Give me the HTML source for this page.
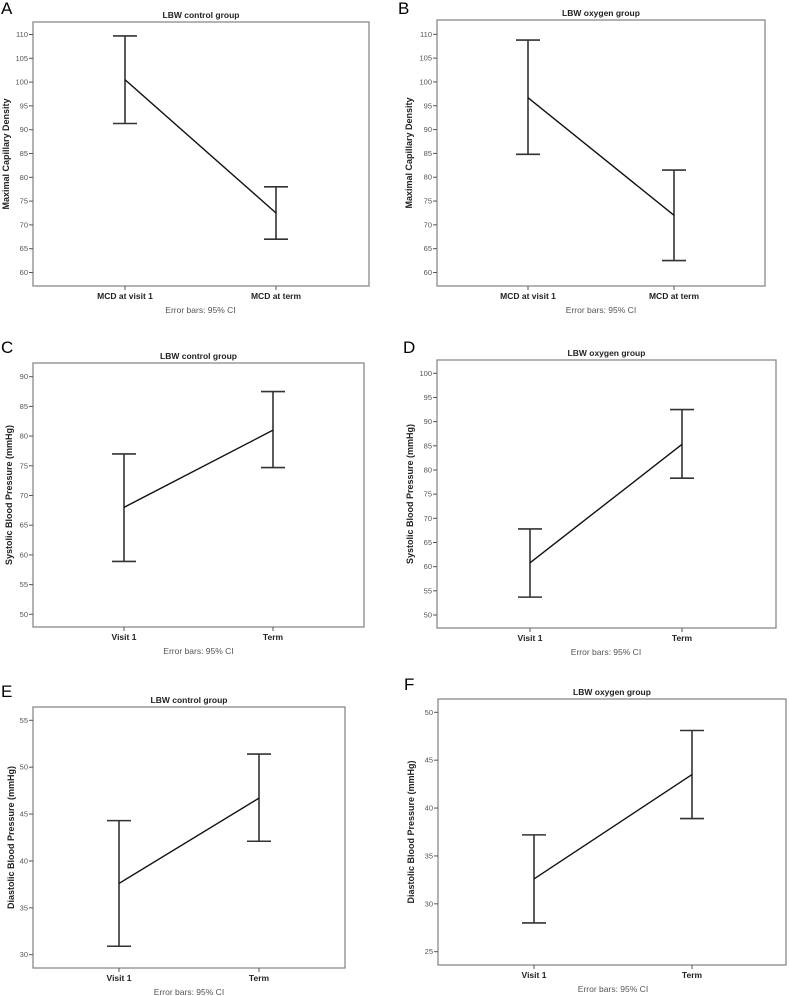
<!DOCTYPE html>
<html><head><meta charset="utf-8"><style>
html,body{margin:0;padding:0;background:#fff;}
svg{display:block;font-family:"Liberation Sans",Arial,sans-serif;}
</style></head><body>
<svg id="fig" width="789" height="996" viewBox="0 0 789 996" xmlns="http://www.w3.org/2000/svg"></svg>
<script>
// Panel data (mean, lower CI, upper CI) per category
const catsA = ["MCD at visit 1","MCD at term"];
const meanA = [100.5, 72.5];
const lowA = [91.3, 67.0];
const highA = [109.7, 78.0];
const ticksA = [60,65,70,75,80,85,90,95,100,105,110];

const catsB = ["MCD at visit 1","MCD at term"];
const meanB = [96.7, 72.0];
const lowB = [84.8, 62.5];
const highB = [108.8, 81.5];
const ticksB = [60,65,70,75,80,85,90,95,100,105,110];

const catsC = ["Visit 1","Term"];
const meanC = [68.0, 81.0];
const lowC = [58.9, 74.7];
const highC = [77.0, 87.5];
const ticksC = [50,55,60,65,70,75,80,85,90];

const catsD = ["Visit 1","Term"];
const meanD = [60.8, 85.3];
const lowD = [53.7, 78.3];
const highD = [67.8, 92.5];
const ticksD = [50,55,60,65,70,75,80,85,90,95,100];

const catsE = ["Visit 1","Term"];
const meanE = [37.6, 46.7];
const lowE = [30.9, 42.1];
const highE = [44.3, 51.4];
const ticksE = [30,35,40,45,50,55];

const catsF = ["Visit 1","Term"];
const meanF = [32.6, 43.5];
const lowF = [28.0, 38.9];
const highF = [37.2, 48.1];
const ticksF = [25,30,35,40,45,50];

const NS = "http://www.w3.org/2000/svg";
const svg = document.getElementById("fig");
function mk(tag, attrs, parent, text){
  const e = document.createElementNS(NS, tag);
  for (const k in attrs) e.setAttribute(k, attrs[k]);
  if (text !== undefined) e.textContent = text;
  (parent||svg).appendChild(e);
  return e;
}

function panel(cfg, cats, mean, low, high, ticks){
  const g = mk("g", {});
  
  
  const lbl = mk("text", {x:cfg.lx, y:cfg.ly, "font-size":17, fill:"#000"}, g, cfg.letter);
  
  
  const t = mk("text", {x:(cfg.x0+cfg.x1)/2, y:cfg.y0-4, "font-size":8.5, "font-weight":"bold", fill:"#222", "text-anchor":"middle"}, g, cfg.title);
  
  
  const box = mk("rect", {x:cfg.x0, y:cfg.y0, width:cfg.x1-cfg.x0, height:cfg.y1-cfg.y0, fill:"none", stroke:"#8a8a8a", "stroke-width":1.3}, g);
  
  
  const tmin = ticks[0], tmax = ticks[ticks.length-1];
  const yS = v => cfg.yb + (v - tmin) * (cfg.yt - cfg.yb) / (tmax - tmin);
  const xS = i => cfg.cx[0] + i * (cfg.cx[1] - cfg.cx[0]);
  ticks.forEach(v => {
    const y = yS(v);
    const tl = mk("line", {x1:cfg.x0-4, x2:cfg.x0, y1:y, y2:y, stroke:"#555", "stroke-width":1}, g);
    
    
    const tt = mk("text", {x:cfg.x0-5, y:y+2.5, "font-size":7.5, fill:"#555", "text-anchor":"end"}, g, v);
    
    
  });
  const yt = mk("text", {x:0, y:0, "font-size":9, "font-weight":"bold", fill:"#222", "text-anchor":"middle", transform:`translate(${cfg.ytx},${(cfg.y0+cfg.y1)/2}) rotate(-90)`}, g, cfg.ytitle);
  
  
  cats.forEach((c,i) => {
    const x = xS(i);
    const xt = mk("line", {x1:x, x2:x, y1:cfg.y1, y2:cfg.y1+4, stroke:"#555", "stroke-width":1}, g);
    
    
    const xl = mk("text", {x:x, y:cfg.y1+13, "font-size":8.5, "font-weight":"bold", fill:"#222", "text-anchor":"middle"}, g, c);
    
    
    const eb = mk("path", {d:`M${x-12},${yS(high[i])}H${x+12}M${x},${yS(high[i])}V${yS(low[i])}M${x-12},${yS(low[i])}H${x+12}`, fill:"none", stroke:"#333", "stroke-width":1.6}, g);
    
    
  });
  const pts = mean.map((m,i) => `${xS(i)},${yS(m)}`).join(" ");
  const ln = mk("polyline", {points:pts, fill:"none", stroke:"#111", "stroke-width":1.4}, g);
  
  
  const cap = mk("text", {x:(cfg.cx[0]+cfg.cx[1])/2, y:cfg.y1+27, "font-size":8.5, fill:"#555", "text-anchor":"middle"}, g, "Error bars: 95% CI");
  
  
}

panel({letter:"A", lx:1, ly:14, title:"LBW control group", x0:33, x1:369, y0:22, y1:286, yt:34.5, yb:272.5, cx:[125,276], ytx:9, ytitle:"Maximal Capillary Density"}, catsA, meanA, lowA, highA, ticksA);
panel({letter:"B", lx:398, ly:14, title:"LBW oxygen group", x0:437, x1:765, y0:20, y1:286, yt:34.3, yb:272.5, cx:[528,674], ytx:412, ytitle:"Maximal Capillary Density"}, catsB, meanB, lowB, highB, ticksB);
panel({letter:"C", lx:1, ly:353, title:"LBW control group", x0:33, x1:364, y0:363, y1:627, yt:376.7, yb:614.3, cx:[124,273], ytx:12, ytitle:"Systolic Blood Pressure (mmHg)"}, catsC, meanC, lowC, highC, ticksC);
panel({letter:"D", lx:403, ly:353, title:"LBW oxygen group", x0:437, x1:776, y0:360, y1:628, yt:373.3, yb:615, cx:[530,682], ytx:413, ytitle:"Systolic Blood Pressure (mmHg)"}, catsD, meanD, lowD, highD, ticksD);
panel({letter:"E", lx:1, ly:697, title:"LBW control group", x0:33, x1:345, y0:707, y1:968, yt:720.3, yb:954.7, cx:[119,259], ytx:14, ytitle:"Diastolic Blood Pressure (mmHg)"}, catsE, meanE, lowE, highE, ticksE);
panel({letter:"F", lx:404, ly:690, title:"LBW oxygen group", x0:438, x1:786, y0:699, y1:965, yt:712.3, yb:951.7, cx:[534,692], ytx:414, ytitle:"Diastolic Blood Pressure (mmHg)"}, catsF, meanF, lowF, highF, ticksF);
</script>
</body></html>
